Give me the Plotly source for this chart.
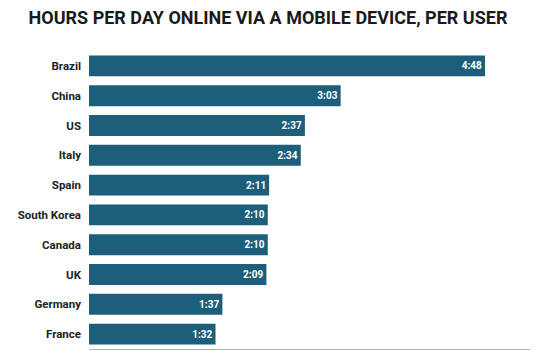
import plotly.graph_objects as go

countries = ["Brazil", "China", "US", "Italy", "Spain", "South Korea", "Canada", "UK", "Germany", "France"]
labels = ["4:48", "3:03", "2:37", "2:34", "2:11", "2:10", "2:10", "2:09", "1:37", "1:32"]
minutes = [288, 183, 157, 154, 131, 130, 130, 129, 97, 92]

fig = go.Figure(go.Bar(
    y=countries, x=minutes, orientation="h",
    marker=dict(color="#1d5e7a", line=dict(width=0)),
    text=labels, textposition="inside", insidetextanchor="end",
    textfont=dict(family="Roboto", size=10, color="white", weight="bold"),
    cliponaxis=False, width=0.7,
))

fig.update_layout(
    width=536, height=357,
    margin=dict(l=89, r=6, t=51, b=8),
    paper_bgcolor="white", plot_bgcolor="white",
    showlegend=False,
    title=dict(text="<b>HOURS PER DAY ONLINE VIA A MOBILE DEVICE, PER USER</b>",
               x=0.5, xanchor="center", y=0.95, yanchor="middle",
               font=dict(family="Roboto", size=18, color="#1a1a1a")),
)
fig.update_xaxes(range=[0, 320.7], showgrid=False, zeroline=False, showticklabels=False,
                 showline=True, linecolor="#b0b0b0", linewidth=1, ticks="")
fig.update_yaxes(autorange="reversed", showgrid=False, ticks="", ticklabelstandoff=7,
                 tickfont=dict(family="Roboto", size=11.5, color="#222222", weight="bold"))

fig.write_html("out.html", config={"displayModeBar": False},
               post_script="document.body.style.margin='0';document.body.style.padding='0';")
